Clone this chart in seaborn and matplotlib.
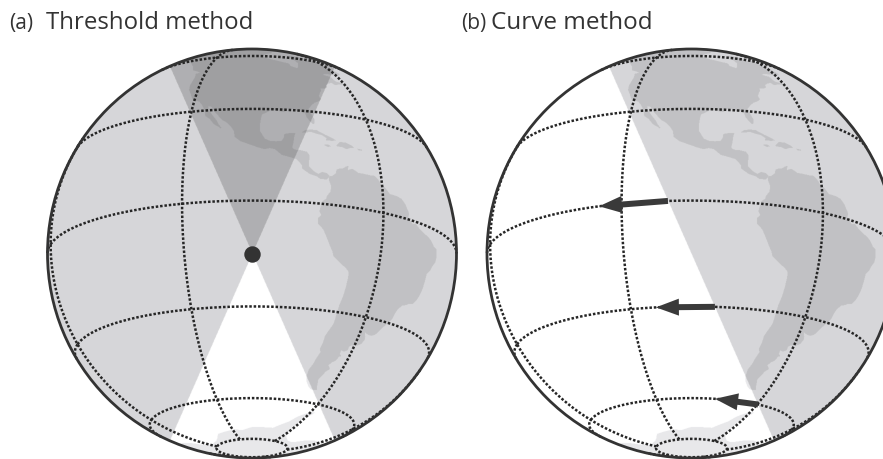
import numpy as np
import pandas as pd
import seaborn as sns
import matplotlib
matplotlib.use("Agg")
import matplotlib.pyplot as plt
from matplotlib.path import Path
from matplotlib.patches import Circle

# orthographic view shared by both globes
LON0, LAT0 = -100.0, -15.0
RADIUS = 204.5
centers = [(252.0, 254.5), (691.5, 254.5)]
WEDGE_DEG = 23.8

tags = ["(a)", "(b)"]
titles = ["Threshold method", "Curve method"]

grid_lons = [-180, -120, -60, 0, 60, 120]
grid_lats = [60, 30, 0, -30, -60, -80]

# arrows in panel (b): latitude, start lon, tip lon
arrow_lats = [0, -30, -60]
arrow_lon_from = [-106.6, -92.4, -59.4]
arrow_lon_to = [-126.9, -111.6, -86.7]

# coarse coastlines (lon, lat)
north_america = [
    (-77.5, 8.5), (-78.5, 7.3), (-80.5, 7.3), (-81.5, 8.0), (-83.5, 8.5), (-85.7, 10.0),
    (-85.8, 11.2), (-87.3, 12.9), (-89.5, 13.5), (-91.5, 14.0), (-93.5, 15.8), (-95.0, 16.1),
    (-96.5, 15.7), (-98.5, 16.3), (-101.0, 17.3), (-103.5, 18.3), (-105.3, 19.8), (-105.7, 22.0),
    (-106.5, 23.3), (-108.0, 25.0), (-109.5, 26.0), (-111.0, 27.8), (-111.9, 28.8), (-113.5, 31.3),
    (-114.7, 31.7), (-114.5, 30.3), (-113.5, 29.0), (-112.3, 27.3), (-111.3, 26.0), (-110.3, 24.2),
    (-109.5, 23.2), (-109.9, 22.9), (-110.2, 23.4), (-112.0, 24.6), (-113.6, 26.7), (-115.1, 27.8),
    (-115.7, 30.1), (-116.7, 31.8), (-117.1, 32.6), (-118.4, 34.0), (-120.6, 34.6), (-121.9, 36.6),
    (-122.5, 37.8), (-123.8, 39.8), (-124.3, 42.0), (-124.0, 46.2), (-124.7, 48.4), (-123.0, 48.8),
    (-125.0, 50.0), (-127.5, 51.0), (-130.0, 54.3), (-132.0, 56.0), (-135.0, 58.3), (-139.5, 59.8),
    (-144.0, 60.0), (-148.0, 60.5), (-151.0, 59.5), (-154.0, 58.0), (-157.0, 56.8), (-161.0, 55.5),
    (-163.5, 55.0), (-160.0, 58.5), (-162.0, 59.8), (-165.0, 61.0), (-165.0, 63.5), (-161.0, 64.5),
    (-166.0, 65.5), (-164.0, 67.0), (-166.0, 68.8), (-160.0, 70.5), (-156.5, 71.3), (-150.0, 70.4),
    (-141.0, 69.6), (-135.0, 69.3), (-128.0, 70.0), (-120.0, 69.0), (-113.0, 68.0), (-105.0, 68.5),
    (-98.0, 67.8), (-94.0, 68.5), (-90.0, 68.5), (-86.0, 66.5), (-88.0, 64.0), (-92.5, 62.0),
    (-94.5, 59.5), (-93.0, 58.5), (-90.0, 57.0), (-85.0, 55.3), (-82.3, 54.5), (-82.0, 52.5),
    (-79.5, 51.5), (-78.5, 52.5), (-77.0, 55.5), (-77.5, 58.0), (-78.0, 60.5), (-77.5, 62.3),
    (-73.0, 62.0), (-70.0, 61.0), (-69.5, 59.0), (-67.0, 58.5), (-64.5, 60.3), (-62.0, 57.5),
    (-60.5, 55.5), (-57.5, 54.0), (-56.0, 52.0), (-59.0, 50.5), (-63.0, 50.2), (-66.5, 50.0),
    (-68.5, 49.0), (-65.0, 48.5), (-64.5, 47.0), (-64.0, 46.0), (-61.0, 45.8), (-60.0, 45.5),
    (-63.5, 44.6), (-66.0, 43.8), (-67.0, 44.8), (-69.0, 44.0), (-70.5, 43.0), (-70.7, 41.8),
    (-72.0, 41.0), (-74.0, 40.7), (-74.2, 39.5), (-75.0, 38.7), (-76.0, 37.0), (-75.7, 35.5),
    (-77.0, 34.5), (-78.5, 33.8), (-80.0, 32.6), (-81.3, 31.0), (-81.0, 29.5), (-80.1, 27.0),
    (-80.3, 25.5), (-81.0, 25.2), (-81.8, 26.2), (-82.7, 27.8), (-82.8, 29.0), (-84.0, 30.0),
    (-85.5, 29.8), (-86.5, 30.4), (-88.0, 30.4), (-89.5, 30.2), (-89.3, 29.2), (-90.5, 29.0),
    (-92.0, 29.6), (-94.0, 29.6), (-95.5, 28.7), (-97.0, 27.8), (-97.4, 26.0), (-97.7, 24.0),
    (-97.8, 22.0), (-97.3, 21.0), (-96.3, 19.2), (-94.8, 18.5), (-93.0, 18.4), (-91.5, 18.6),
    (-90.7, 19.5), (-90.4, 21.0), (-88.5, 21.5), (-87.0, 21.5), (-87.5, 20.0), (-87.8, 18.3),
    (-88.3, 16.5), (-87.5, 15.9), (-86.0, 15.9), (-84.0, 15.5), (-83.3, 14.5), (-83.5, 12.5),
    (-83.7, 11.0), (-82.3, 9.5), (-81.0, 8.8), (-79.8, 9.5), (-78.5, 9.3),
]
south_america = [
    (-77.5, 8.5), (-76.8, 8.6), (-75.6, 9.5), (-75.3, 10.7), (-74.2, 11.2), (-73.0, 11.4),
    (-72.2, 12.0), (-71.3, 12.4), (-71.6, 11.0), (-70.2, 11.6), (-69.6, 11.4), (-68.2, 10.6),
    (-66.2, 10.6), (-64.3, 10.5), (-62.5, 10.6), (-61.5, 9.8), (-60.5, 8.3), (-59.0, 7.5),
    (-57.5, 6.0), (-55.0, 5.9), (-53.0, 5.5), (-51.5, 4.2), (-50.0, 1.8), (-50.3, 0.5),
    (-48.5, -1.0), (-47.0, -0.7), (-44.5, -2.0), (-43.0, -2.5), (-41.0, -2.9), (-39.0, -3.6),
    (-37.2, -4.9), (-35.3, -5.3), (-34.8, -7.2), (-35.1, -9.0), (-36.5, -10.5), (-37.3, -11.8),
    (-38.9, -13.3), (-39.0, -15.5), (-39.2, -17.7), (-39.8, -19.8), (-40.5, -21.2), (-41.9, -22.7),
    (-43.5, -23.0), (-45.0, -23.7), (-46.6, -24.2), (-48.0, -25.5), (-48.6, -27.0), (-48.9, -28.6),
    (-50.2, -30.3), (-51.4, -31.6), (-52.7, -33.5), (-53.6, -34.4), (-55.0, -34.9), (-56.5, -34.8),
    (-58.2, -34.4), (-57.3, -35.6), (-57.0, -36.5), (-57.6, -37.9), (-59.0, -38.6), (-61.5, -38.9),
    (-62.3, -39.5), (-62.2, -40.6), (-63.5, -41.2), (-65.0, -41.0), (-64.8, -42.2), (-63.7, -42.7),
    (-64.6, -43.0), (-65.3, -44.5), (-66.6, -45.1), (-67.5, -46.3), (-66.0, -47.3), (-67.4, -48.5),
    (-68.3, -50.2), (-69.0, -51.6), (-68.4, -52.4), (-67.5, -54.2), (-66.5, -55.0), (-68.5, -55.3),
    (-70.5, -55.0), (-72.0, -54.3), (-74.0, -52.8), (-75.3, -51.0), (-75.5, -48.5), (-74.5, -46.5),
    (-74.0, -44.5), (-73.2, -42.5), (-73.9, -41.5), (-73.5, -39.5), (-73.5, -37.5), (-72.6, -35.5),
    (-71.6, -33.5), (-71.5, -31.0), (-71.3, -28.0), (-70.7, -25.5), (-70.4, -23.0), (-70.2, -20.0),
    (-70.3, -18.3), (-71.5, -17.3), (-73.5, -16.2), (-75.9, -14.5), (-76.3, -13.3), (-77.2, -11.8),
    (-78.5, -9.3), (-79.6, -7.3), (-81.2, -5.8), (-81.3, -4.2), (-80.3, -3.3), (-80.9, -2.2),
    (-80.4, -0.5), (-80.0, 0.8), (-78.9, 1.5), (-78.6, 2.5), (-77.5, 3.8), (-77.3, 5.5),
    (-77.8, 7.0), (-77.9, 7.8),
]
cuba = [(-84.9, 21.9), (-84.0, 22.7), (-82.0, 23.2), (-80.0, 23.1), (-77.5, 21.8), (-75.7, 21.1),
        (-74.2, 20.3), (-75.5, 19.9), (-77.7, 19.9), (-77.2, 20.6), (-78.5, 21.5), (-80.5, 21.9),
        (-82.0, 22.3), (-83.5, 22.0)]
hispaniola = [(-74.4, 18.6), (-73.0, 19.9), (-71.0, 19.9), (-69.0, 19.2), (-68.4, 18.6),
              (-70.0, 18.2), (-71.2, 17.7), (-72.5, 18.2), (-74.4, 18.3)]
jamaica = [(-78.3, 18.4), (-76.9, 18.5), (-76.2, 18.0), (-77.2, 17.7), (-78.2, 18.1)]
puerto_rico = [(-67.2, 18.5), (-65.6, 18.4), (-65.7, 18.0), (-67.2, 18.0)]
antarctica = [
    (-180, -78.0), (-170, -78.3), (-158, -78.0), (-150, -77.0), (-145, -76.0), (-140, -75.0),
    (-130, -74.5), (-120, -74.0), (-110, -74.5), (-100, -73.0), (-90, -73.0), (-80, -73.0),
    (-75, -71.0), (-70, -69.0), (-67, -66.5), (-64, -65.0), (-60, -63.5), (-57, -63.3),
    (-58, -64.5), (-61, -66.5), (-62, -69.0), (-61, -72.0), (-61, -74.5), (-55, -76.5),
    (-45, -78.0), (-36, -78.0), (-30, -77.0), (-25, -75.0), (-15, -72.5), (-5, -71.0),
    (0, -70.0), (20, -70.0), (40, -69.0), (60, -67.0), (90, -66.5), (120, -66.5), (150, -68.0),
    (165, -72.0), (170, -75.0), (180, -78.0), (180, -90.0), (-180, -90.0),
]
land = [north_america, south_america, cuba, hispaniola, jamaica, puerto_rico, antarctica]

# grey levels: (ocean, land)
shade_base = (0.843, 0.760)
shade_dark = (0.690, 0.625)
shade_white = (1.000, 0.910)


def project(lon, lat):
    dl = np.radians(np.asarray(lon, float) - LON0)
    phi = np.radians(np.asarray(lat, float))
    p0 = np.radians(LAT0)
    x = RADIUS * np.cos(phi) * np.sin(dl)
    y = RADIUS * (np.cos(p0) * np.sin(phi) - np.sin(p0) * np.cos(phi) * np.cos(dl))
    cosc = np.sin(p0) * np.sin(phi) + np.cos(p0) * np.cos(phi) * np.cos(dl)
    return x, -y, cosc


# inverse projection on a pixel grid
step = 0.5
u = np.arange(-RADIUS, RADIUS, step) + step / 2
X, Y = np.meshgrid(u, u)
xu, yu = X / RADIUS, -Y / RADIUS
rho = np.hypot(xu, yu)
inside = rho < 1
cosc = np.sqrt(np.clip(1 - rho ** 2, 0, 1))
p0 = np.radians(LAT0)
lat = np.degrees(np.arcsin(np.clip(cosc * np.sin(p0) + yu * np.cos(p0), -1, 1)))
lon = LON0 + np.degrees(np.arctan2(xu, cosc * np.cos(p0) - yu * np.sin(p0)))
lon = (lon + 180) % 360 - 180

is_land = np.zeros(X.shape, bool)
pts = np.column_stack([lon[inside], lat[inside]])
hit = np.zeros(len(pts), bool)
for poly in land:
    poly = np.array(poly)
    box = ((pts[:, 0] >= poly[:, 0].min()) & (pts[:, 0] <= poly[:, 0].max()) &
           (pts[:, 1] >= poly[:, 1].min()) & (pts[:, 1] <= poly[:, 1].max()))
    hit[box] |= Path(poly).contains_points(pts[box])
is_land[inside] = hit

t = np.tan(np.radians(WEDGE_DEG))
upper = (Y < 0) & (np.abs(X) <= -t * Y)
lower = (Y > 0) & (np.abs(X) <= t * Y)
left_of_line = X <= t * Y


def shade(levels):
    return np.where(is_land, levels[1], levels[0])


grey_a = shade(shade_base)
grey_a = np.where(upper, shade(shade_dark), grey_a)
grey_a = np.where(lower, shade(shade_white), grey_a)
grey_b = np.where(left_of_line, shade(shade_white), shade(shade_base))


def to_rgba(g):
    img = np.zeros(X.shape + (4,))
    img[..., 0] = g
    img[..., 1] = g
    img[..., 2] = np.clip(g + 0.01, 0, 1)
    img[..., 3] = inside
    return img


# graticule segments (visible parts only)
rows = []
seg = 0
lines = [(np.full(721, lo), np.linspace(-80, 80, 721)) for lo in grid_lons]
lines += [(np.linspace(-180, 180, 721), np.full(721, la)) for la in grid_lats]
for k, (cx, cy) in enumerate(centers):
    for lo_arr, la_arr in lines:
        gx, gy, vis = project(lo_arr, la_arr)
        run = []
        for i in range(len(gx)):
            if vis[i] > 0:
                run.append((cx + gx[i], cy + gy[i]))
            elif run:
                rows += [dict(x=a, y=b, seg=seg) for a, b in run]
                seg += 1
                run = []
        if run:
            rows += [dict(x=a, y=b, seg=seg) for a, b in run]
            seg += 1
grid_df = pd.DataFrame(rows)

sns.set_theme(style="white")
plt.rcParams["font.family"] = ["Open Sans", "DejaVu Sans"]

fig = plt.figure(figsize=(8.83, 4.6), dpi=100)
ax = fig.add_axes([0, 0, 1, 1])

for (cx, cy), g in zip(centers, [grey_a, grey_b]):
    ax.imshow(to_rgba(g), extent=(cx - RADIUS, cx + RADIUS, cy + RADIUS, cy - RADIUS),
              origin="upper", interpolation="antialiased", zorder=1)

sns.lineplot(data=grid_df, x="x", y="y", units="seg", estimator=None, sort=False,
             color="#262626", lw=1.8, linestyle=(0, (1, 0.75)), legend=False, ax=ax, zorder=2)

for cx, cy in centers:
    ax.add_patch(Circle((cx, cy), RADIUS, fill=False, lw=2.0, ec="#333333", zorder=3))

# point of the threshold method
dx, dy, _ = project(LON0, LAT0)
ax.scatter([centers[0][0] + dx], [centers[0][1] + dy], s=140, color="#333333", zorder=5, lw=0)

# arrows of the curve method
cx, cy = centers[1]
for la, l1, l2 in zip(arrow_lats, arrow_lon_from, arrow_lon_to):
    x1, y1, _ = project(l1, la)
    x2, y2, _ = project(l2, la)
    ax.arrow(cx + x1, cy + y1, x2 - x1, y2 - y1, width=6, head_width=17, head_length=23,
             length_includes_head=True, fc="#3a3a3a", ec="none", zorder=5)

for tag, title, x0, x1, fs in zip(tags, titles, [9, 461], [46, 491], [17.3, 17.5]):
    ax.text(x0, 29, tag, fontsize=15, color="#333333", va="baseline")
    ax.text(x1, 29, title, fontsize=fs, color="#333333", va="baseline")

ax.set_xlim(0, 883)
ax.set_ylim(460, 0)
ax.set_aspect("equal")
ax.axis("off")
fig.savefig("out.png", dpi=100)
